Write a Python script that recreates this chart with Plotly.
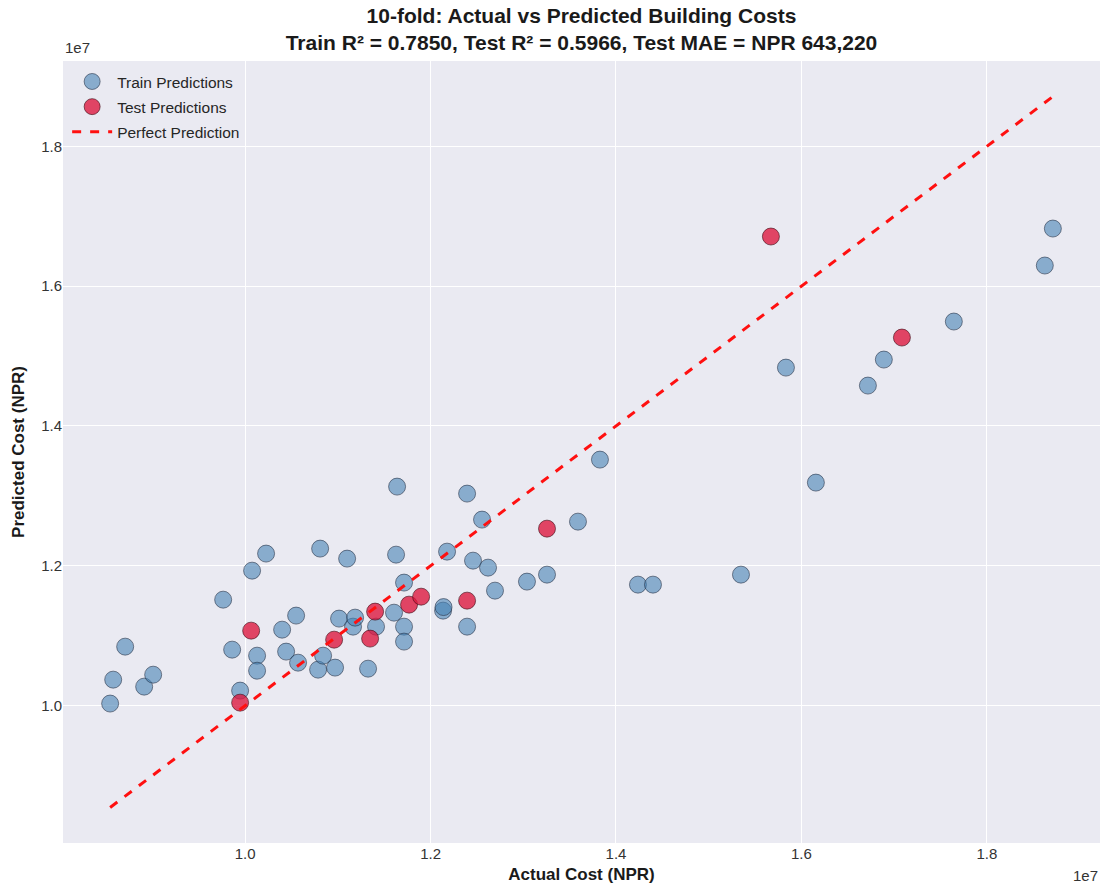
import plotly.graph_objects as go

# Train predictions (actual, predicted)
train_actual = [8.544e6, 8.577e6, 8.706e6, 8.911e6, 9.008e6, 9.763e6, 9.860e6, 9.946e6,
                1.0075e7, 1.0129e7, 1.0129e7, 1.0226e7, 1.0399e7, 1.0442e7, 1.0550e7, 1.0571e7,
                1.0809e7, 1.0787e7, 1.0841e7, 1.0970e7, 1.1013e7, 1.1100e7, 1.1164e7, 1.1186e7,
                1.1326e7, 1.1412e7, 1.1606e7, 1.1628e7, 1.1639e7, 1.1714e7, 1.1714e7, 1.1714e7,
                1.2135e7, 1.2140e7, 1.2178e7, 1.2394e7, 1.2394e7, 1.2458e7, 1.2555e7, 1.2620e7,
                1.2695e7, 1.3040e7, 1.3256e7, 1.3590e7, 1.3827e7, 1.4237e7, 1.4399e7, 1.5348e7,
                1.5833e7, 1.6156e7, 1.6717e7, 1.6889e7, 1.7644e7, 1.8625e7, 1.8712e7]
train_pred = [1.0030e7, 1.0372e7, 1.0844e7, 1.0272e7, 1.0443e7, 1.1516e7, 1.0801e7, 1.0215e7,
              1.1931e7, 1.0715e7, 1.0500e7, 1.2175e7, 1.1087e7, 1.0773e7, 1.1288e7, 1.0615e7,
              1.2246e7, 1.0515e7, 1.0715e7, 1.0544e7, 1.1245e7, 1.2103e7, 1.1130e7, 1.1259e7,
              1.0529e7, 1.1130e7, 1.1330e7, 1.2160e7, 1.3133e7, 1.1760e7, 1.1130e7, 1.0916e7,
              1.1359e7, 1.1410e7, 1.2203e7, 1.3033e7, 1.1130e7, 1.2074e7, 1.2661e7, 1.1974e7,
              1.1645e7, 1.1774e7, 1.1874e7, 1.2632e7, 1.3519e7, 1.1731e7, 1.1731e7, 1.1874e7,
              1.4835e7, 1.3190e7, 1.4578e7, 1.4950e7, 1.5494e7, 1.6295e7, 1.6824e7]

# Test predictions (actual, predicted)
test_actual = [9.946e6, 1.0065e7, 1.0960e7, 1.1348e7, 1.1402e7, 1.1768e7, 1.1898e7,
               1.2394e7, 1.3256e7, 1.5671e7, 1.7084e7]
test_pred = [1.0043e7, 1.1073e7, 1.0944e7, 1.0959e7, 1.1345e7, 1.1445e7, 1.1559e7,
             1.1502e7, 1.2532e7, 1.6710e7, 1.5265e7]

tick_vals = [1.0e7, 1.2e7, 1.4e7, 1.6e7, 1.8e7]
tick_text = ["1.0", "1.2", "1.4", "1.6", "1.8"]

title_line1 = "10-fold: Actual vs Predicted Building Costs"
title_line2 = "Train R² = 0.7850, Test R² = 0.5966, Test MAE = NPR 643,220"

all_vals = train_actual + train_pred + test_actual + test_pred
lo, hi = min(all_vals), max(all_vals)
pad = (hi - lo) * 0.05
rng = [lo - pad, hi + pad]

FONT = "Liberation Sans, Arial, sans-serif"

fig = go.Figure()
fig.add_trace(go.Scatter(
    x=train_actual, y=train_pred, mode="markers", name="Train Predictions",
    legendgroup="a",
    marker=dict(size=17, color="rgba(70,130,180,0.6)",
                line=dict(color="rgba(30,40,60,0.55)", width=1))))
fig.add_trace(go.Scatter(
    x=test_actual, y=test_pred, mode="markers", name="Test Predictions",
    legendgroup="b",
    marker=dict(size=17, color="rgba(220,20,60,0.78)",
                line=dict(color="rgba(60,10,20,0.6)", width=1))))
fig.add_trace(go.Scatter(
    x=[lo, hi], y=[lo, hi], mode="lines", name="Perfect Prediction",
    legendgroup="c",
    line=dict(color="#ff1010", width=3, dash="dash")))

fig.update_layout(
    width=1108, height=889,
    margin=dict(l=63, r=8, t=61, b=44),
    paper_bgcolor="white",
    plot_bgcolor="#EAEAF2",
    font=dict(family=FONT, size=15, color="#262626"),
    title=dict(text=f"<b>{title_line1}<br>{title_line2}</b>",
               x=0.5, xanchor="center", xref="paper", y=0.974, yanchor="top",
               font=dict(size=21, color="#1a1a1a")),
    showlegend=True,
    legend=dict(x=0.004, y=0.995, xanchor="left", yanchor="top",
                bgcolor="rgba(0,0,0,0)", font=dict(size=15.5, color="#262626"),
                tracegroupgap=2, itemwidth=40),
    xaxis=dict(range=rng, tickvals=tick_vals, ticktext=tick_text,
               showgrid=True, gridcolor="white", gridwidth=1, zeroline=False,
               showline=False, ticks="", tickfont=dict(size=15, color="#333"),
               title=dict(text="<b>Actual Cost (NPR)</b>", font=dict(size=17, color="#1a1a1a"),
                          standoff=7)),
    yaxis=dict(range=rng, tickvals=tick_vals, ticktext=tick_text,
               showgrid=True, gridcolor="white", gridwidth=1, zeroline=False,
               showline=False, ticks="", tickfont=dict(size=15, color="#333"),
               title=dict(text="<b>Predicted Cost (NPR)</b>", font=dict(size=17, color="#1a1a1a"),
                          standoff=12)),
)

fig.add_annotation(text="1e7", xref="paper", yref="paper", x=0.0, y=1.0,
                   xanchor="left", yanchor="bottom", showarrow=False, yshift=3,
                   font=dict(size=15, color="#333"))
fig.add_annotation(text="1e7", xref="paper", yref="paper", x=1.0, y=0.0,
                   xanchor="right", yanchor="top", showarrow=False, yshift=-22,
                   font=dict(size=15, color="#333"))

fig.write_html("out.html")
